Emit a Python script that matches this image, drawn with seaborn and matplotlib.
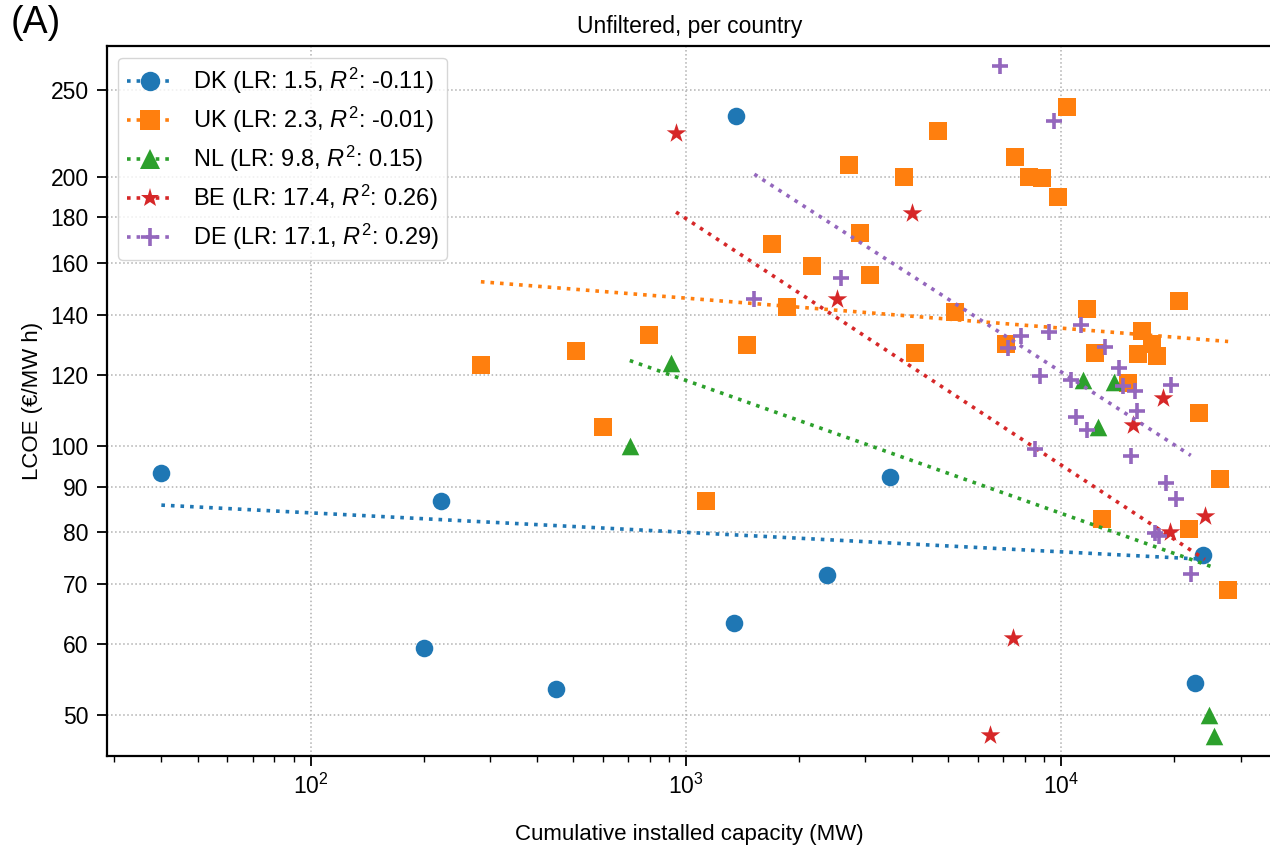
import numpy as np
import pandas as pd
import matplotlib
matplotlib.use("Agg")
import matplotlib.pyplot as plt
from matplotlib.lines import Line2D
from matplotlib.ticker import FixedLocator, NullLocator, FuncFormatter, LogLocator
import seaborn as sns

# Countries, fitted learning rates (%) and goodness of fit
countries = ["DK", "UK", "NL", "BE", "DE"]
learning_rates = [1.5, 2.3, 9.8, 17.4, 17.1]
r_squared = [-0.11, -0.01, 0.15, 0.26, 0.29]

# Cumulative installed capacity (MW) and LCOE (EUR/MWh) per project
dk_capacity = [40, 200, 223, 450, 1340, 1360, 2370, 3500, 22700, 23800]
dk_lcoe = [93.1, 59.4, 86.6, 53.4, 63.4, 234, 71.7, 92.2, 54.3, 75.5]

uk_capacity = [284, 510, 600, 795, 1130, 1450, 1690, 1860, 2160, 2720, 2900,
               3090, 3800, 4070, 4700, 5200, 7100, 7500, 8200, 8900, 9770,
               10350, 11700, 12300, 12800, 15000, 16000, 16400, 17400, 18000,
               20600, 21900, 23300, 26400, 27800]
uk_lcoe = [123, 127.5, 105, 133, 86.6, 129.5, 168, 143, 159, 206, 173,
           155, 200, 127, 225, 141, 130, 210.5, 200, 199.5, 189.5,
           239.5, 142.3, 127, 82.8, 117.5, 126.5, 134.5, 130, 126,
           145.3, 80.6, 108.7, 91.8, 68.9]

nl_capacity = [708, 912, 11400, 12500, 13800, 24700, 25500]
nl_lcoe = [100, 123.7, 118.5, 105, 117.7, 50, 47.3]

be_capacity = [940, 2530, 4000, 6450, 7450, 15500, 18600, 19400, 24100]
be_lcoe = [224, 146, 182, 47.4, 61, 105.4, 113, 80, 83.5]

de_capacity = [1520, 2580, 6840, 7200, 7800, 8500, 8770, 9250, 9570, 10600,
               10950, 11250, 11700, 13050, 14200, 14600, 15300, 15700, 15900,
               17700, 18200, 19000, 19600, 20200, 22100]
de_lcoe = [146, 154, 266, 128.6, 132.7, 99.2, 119.7, 134, 231, 118.5,
           107.6, 136.6, 104.2, 128.9, 122, 116.5, 97.3, 115, 109.2,
           79.8, 79.2, 90.8, 117, 87.1, 71.8]

y_ticks = [50, 60, 70, 80, 90, 100, 120, 140, 160, 180, 200, 250]

capacities = [dk_capacity, uk_capacity, nl_capacity, be_capacity, de_capacity]
lcoes = [dk_lcoe, uk_lcoe, nl_lcoe, be_lcoe, de_lcoe]

frames = []
for c, xs, ys in zip(countries, capacities, lcoes):
    frames.append(pd.DataFrame({"country": c, "capacity": xs, "lcoe": ys}))
df = pd.concat(frames, ignore_index=True)

palette = sns.color_palette("tab10", 5)
markers = ["o", "s", "^", "*", "+"]
sizes = [160, 150, 160, 220, 140]

sns.set_style("ticks")
plt.rcParams.update({
    "font.family": ["Liberation Sans", "DejaVu Sans"],
    "mathtext.fontset": "custom",
    "mathtext.rm": "Liberation Sans",
    "mathtext.it": "Liberation Sans:italic",
    "mathtext.bf": "Liberation Sans:bold",
    "axes.unicode_minus": False,
    "text.color": "black",
    "axes.labelcolor": "black",
    "axes.edgecolor": "black",
    "xtick.color": "black",
    "ytick.color": "black",
})

fig = plt.figure(figsize=(12.7, 8.5), dpi=100)
ax = fig.add_axes([0.084, 0.111, 0.918, 0.835])
ax.set_xscale("log")
ax.set_yscale("log")

handles = []
for i, c in enumerate(countries):
    sub = df[df["country"] == c]
    filled = markers[i] != "+"
    sns.scatterplot(data=sub, x="capacity", y="lcoe", marker=markers[i],
                    color=palette[i], s=sizes[i],
                    linewidth=0 if filled else 2.6,
                    edgecolor=palette[i] if not filled else None,
                    ax=ax, legend=False, zorder=3)
    # log-log experience curve with slope implied by the learning rate
    lx = np.log10(sub["capacity"].to_numpy(float))
    ly = np.log10(sub["lcoe"].to_numpy(float))
    b = np.log2(1 - learning_rates[i] / 100.0)
    a = ly.mean() - b * lx.mean()
    xfit = np.array([lx.min(), lx.max()])
    fit = pd.DataFrame({"capacity": 10 ** xfit, "lcoe": 10 ** (a + b * xfit)})
    sns.lineplot(data=fit, x="capacity", y="lcoe", color=palette[i],
                 linestyle=":", linewidth=2.6, ax=ax, legend=False, zorder=3)
    label = f"{c} (LR: {learning_rates[i]}, $R^2$: {r_squared[i]})"
    handles.append(Line2D([], [], color=palette[i], marker=markers[i],
                          linestyle=":", linewidth=2.6,
                          markersize=14 if filled else 13,
                          markeredgewidth=0 if filled else 2.6,
                          label=label))

ax.set_xlim(28.6, 36500)
ax.set_ylim(45, 280)

ax.xaxis.set_major_locator(LogLocator(base=10))
ax.xaxis.set_minor_locator(LogLocator(base=10, subs=np.arange(2, 10)))
ax.yaxis.set_major_locator(FixedLocator(y_ticks))
ax.yaxis.set_minor_locator(NullLocator())
ax.yaxis.set_major_formatter(FuncFormatter(lambda v, p: f"{v:.0f}"))

ax.grid(True, which="major", linestyle=":", color="#b0b0b0", linewidth=1.1)
ax.tick_params(axis="both", which="major", labelsize=16.5, length=7,
               width=1.3, pad=6)
ax.tick_params(axis="x", which="minor", length=4.5, width=1.0)
for s in ax.spines.values():
    s.set_linewidth(1.6)

ax.set_xlabel("Cumulative installed capacity (MW)", fontsize=16, labelpad=18)
ax.set_ylabel("LCOE (€/MW h)", fontsize=16, labelpad=5)
ax.set_title("Unfiltered, per country", fontsize=16.5, pad=9)

ax.legend(handles=handles, loc="upper left", fontsize=17, framealpha=0.8,
          handlelength=2.0, borderpad=0.35, labelspacing=0.37,
          handletextpad=0.8)

fig.text(0.008, 0.994, "(A)", fontsize=27, va="top", ha="left")

fig.savefig("out.png", dpi=100)
